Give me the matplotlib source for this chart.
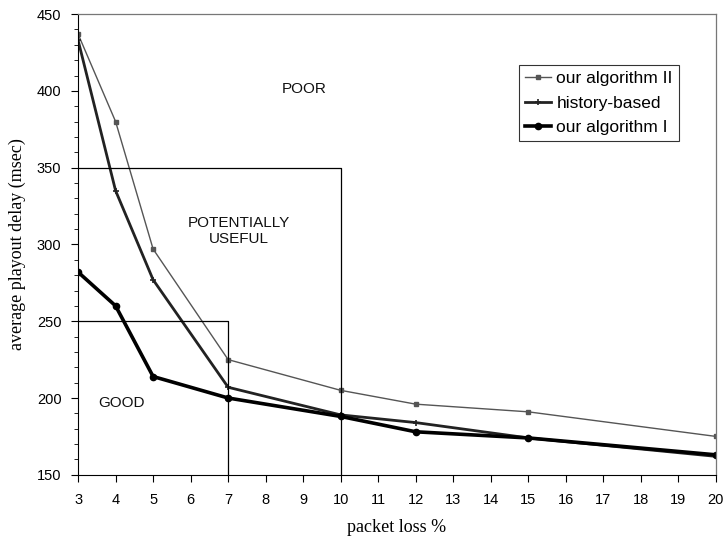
import numpy as np
import matplotlib
matplotlib.use("Agg")
import matplotlib.pyplot as plt
from matplotlib.ticker import MultipleLocator

# data
loss = [3, 4, 5, 7, 10, 12, 15, 20]
algo2 = [437, 380, 297, 225, 205, 196, 191, 175]
history = [433, 335, 277, 207, 189, 184, 174, 162]
algo1 = [282, 260, 214, 200, 188, 178, 174, 163]

good_limit = (7, 250)
useful_limit = (10, 350)

plt.rcParams['font.family'] = ['Liberation Sans', 'DejaVu Sans']

fig = plt.figure(figsize=(7.23, 5.42), dpi=100)
ax = fig.add_axes([0.108, 0.124, 0.882, 0.850])

ax.plot(loss, algo2, color='#555555', lw=1.0, marker='s', ms=3.5,
        label='our algorithm II')
ax.plot(loss, history, color='#222222', lw=2.0, marker='+', ms=5, mew=1.2,
        label='history-based')
ax.plot(loss, algo1, color='black', lw=2.6, marker='o', ms=4.5,
        label='our algorithm I')

# region boxes
ax.plot([3, good_limit[0], good_limit[0]], [good_limit[1], good_limit[1], 150],
        color='black', lw=0.9)
ax.plot([3, useful_limit[0], useful_limit[0]], [useful_limit[1], useful_limit[1], 150],
        color='black', lw=0.9)

ax.text(9.04, 401, 'POOR', fontsize=11, ha='center', va='center', color='#111111')
ax.text(7.29, 309, 'POTENTIALLY\nUSEFUL', fontsize=11, ha='center', va='center',
        linespacing=1.2, color='#111111')
ax.text(4.16, 197, 'GOOD', fontsize=11, ha='center', va='center', color='#111111')

ax.set_xlim(3, 20)
ax.set_ylim(150, 450)
ax.xaxis.set_major_locator(MultipleLocator(1))
ax.yaxis.set_major_locator(MultipleLocator(50))
ax.yaxis.set_minor_locator(MultipleLocator(10))
ax.tick_params(axis='both', which='major', labelsize=10.5, length=5, direction='out')
ax.tick_params(axis='x', which='major', pad=8)
ax.tick_params(axis='y', which='major', pad=7)
ax.tick_params(axis='y', which='minor', length=3, direction='out')

for side in ['top', 'right']:
    ax.spines[side].set_color('#777777')
    ax.spines[side].set_linewidth(0.9)

ax.set_xlabel('packet loss %', family='Liberation Serif', fontsize=13, labelpad=9)
ax.set_ylabel('average playout delay (msec)', family='Liberation Serif',
              fontsize=13, labelpad=8)

leg = ax.legend(loc='upper right', bbox_to_anchor=(0.942, 0.89), fontsize=12.5,
                frameon=True, fancybox=False, edgecolor='black',
                handlelength=1.5, handletextpad=0.3, borderpad=0.35,
                labelspacing=0.55, borderaxespad=0)
leg.get_frame().set_linewidth(0.8)

fig.savefig('out.png', dpi=100)
